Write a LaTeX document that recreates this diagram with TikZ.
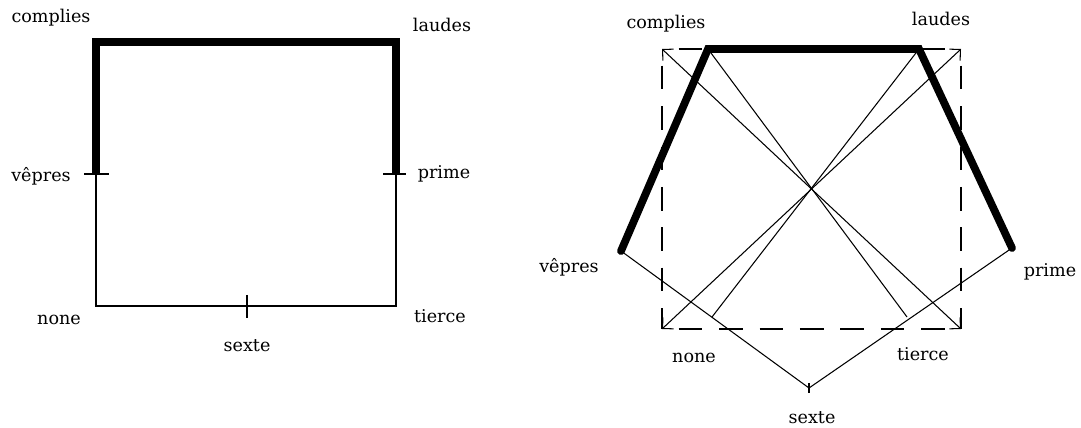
\documentclass[tikz,border=0pt]{standalone}
\usepackage{fontspec}
\setmainfont{DejaVu Serif}
\usepackage{tikz}
\usetikzlibrary{arrows.meta}
\newcommand{\hourfont}{\fontsize{10pt}{12pt}\selectfont}

\begin{document}
\begin{tikzpicture}[
  x=0.02cm, y=-0.02cm,
  thickL/.style={line width=4.4pt, line join=miter},
  thinL/.style={line width=0.6pt},
  dashL/.style={line width=0.6pt, dash pattern=on 13.5pt off 9.5pt, dash phase=13.5pt},
  diagL/.style={line width=0.6pt, >={Straight Barb[length=4.5pt, width=9pt]}, <->},
  hourLbl/.style={font=\hourfont, anchor=base, inner sep=0pt},
]
\useasboundingbox (0,0) rectangle (1081,428);
% points of both figures
\foreach \n/\x/\y in {%
  lC/96/42, lL/396/42, lV/96/174, lP/396/174, lN/96/306, lT/396/306, lS/247/306,
  rC/708/49, rL/919/49, rP/1012/248, rT/907/317, rS/809/388, rN/712/317, rV/621/251,
  dTL/662/49, dTR/961/49, dBR/961/329, dBL/662/329%
} {
  \coordinate (\n) at (\x,\y);
}
% left figure
\draw[thinL] (lV) -- (lN) -- (lT) -- (lP);
\draw[thickL] (lV) -- (lC) -- (lL) -- (lP);
\draw[thinL] (lV) ++(-12,0) -- ++(25,0);
\draw[thinL] (lP) ++(-13,0) -- ++(23,0);
\draw[thinL] (lS) ++(0,-11) -- ++(0,23);
% right figure
\draw[dashL] (dTL) -- (dTR);
\draw[dashL] (dBL) -- (dBR);
\draw[dashL] (dTL) -- (dBL);
\draw[dashL] (dTR) -- (dBR);
\draw[diagL] (dTL) -- (dBR);
\draw[diagL] (dTR) -- (dBL);
\draw[thinL] (rC) -- (rT);
\draw[thinL] (rL) -- (rN);
\draw[thinL] (rV) -- (rS) -- (rP);
\draw[thinL] (rS) ++(0,-5) -- ++(0,10);
\draw[thickL, line cap=round] (rV) -- (rC) -- (rL) -- (rP);
% labels
\foreach \n/\x/\y/\t in {%
  tlC/51/23/complies, tlL/442/32/laudes, tlV/41/182/vêpres, tlP/444/179/prime,
  tlN/59/325/none, tlT/440/323/tierce, tlS/247/352/sexte,
  trC/666/29/complies, trL/941/26/laudes, trV/569/273/vêpres, trP/1050/277/prime,
  trN/694/363/none, trT/923/361/tierce, trS/812/423/sexte%
} {
  \node[hourLbl] (\n) at (\x,\y) {\t};
}
\end{tikzpicture}
\end{document}
